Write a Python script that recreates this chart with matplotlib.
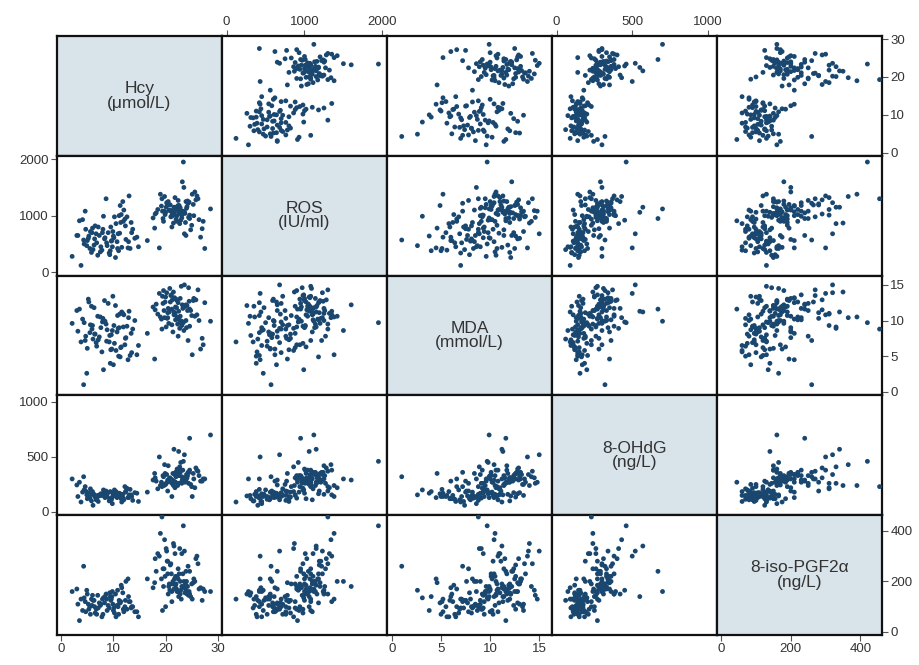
import matplotlib
matplotlib.use("Agg")
import matplotlib.pyplot as plt

plt.rcParams["font.family"] = ["Liberation Sans", "DejaVu Sans"]

# Variable labels shown on the diagonal
labels = ["Hcy\n(μmol/L)", "ROS\n(IU/ml)", "MDA\n(mmol/L)", "8-OHdG\n(ng/L)", "8-iso-PGF2α\n(ng/L)"]

# Homocysteine (µmol/L)
hcy = [
    3.2, 4.1, 5.0, 5.6, 6.3, 7.1, 7.8, 8.4, 9.0, 9.6, 10.2, 10.8, 11.3, 11.9, 12.4, 13.0, 13.7, 14.5, 2.1, 3.8,
    4.6, 5.3, 6.0, 6.8, 7.5, 8.1, 8.8, 9.3, 9.9, 10.5, 11.1, 11.6, 12.2, 12.8, 13.4, 14.1, 4.3, 5.8, 7.3, 8.6,
    9.7, 10.9, 12.0, 13.2, 3.5, 4.9, 6.5, 7.9, 9.2, 10.4, 11.5, 12.6, 14.8, 5.2, 6.1, 8.0, 9.4, 10.7, 11.8, 13.5,
    4.4, 6.7, 8.3, 9.8, 11.0, 12.3, 3.0, 5.5, 7.0, 10.0,
    5.9, 8.7, 10.1, 11.4, 12.9, 4.7, 7.6, 9.5, 6.4, 11.2,
    18.2, 19.0, 19.6, 20.1, 20.5, 21.0, 21.4, 21.8, 22.2, 22.6, 23.0, 23.4, 23.8, 24.3, 24.8, 25.4, 26.0, 26.7, 27.5, 28.6,
    17.6, 18.8, 19.3, 19.9, 20.3, 20.8, 21.2, 21.6, 22.0, 22.4, 22.8, 23.2, 23.6, 24.0, 24.6, 25.1, 25.8, 26.4, 16.5, 20.0,
    18.5, 19.5, 20.6, 21.5, 22.5, 23.5, 24.5, 19.8, 21.1, 22.1, 23.1, 24.1, 25.0, 26.2, 27.0, 20.4, 21.7, 22.9, 23.9, 17.9,
    18.0, 19.2, 20.2, 21.3, 22.3, 23.3, 24.4, 25.6, 20.9, 22.7, 24.2, 19.4, 21.9, 23.7, 27.2,
    20.7, 21.6, 22.4, 23.1, 21.2, 22.8, 20.4, 23.6, 24.6, 21.9, 22.2, 25.3, 19.7, 23.9,
]

# Reactive oxygen species (IU/ml)
ros = [
    650, 930, 560, 720, 480, 800, 390, 610, 700, 550, 980, 420, 1180, 900, 580, 1350, 760, 620, 280, 120,
    1080, 640, 780, 520, 360, 990, 470, 310, 720, 860, 1000, 440, 940, 430, 880, 600, 570, 350, 650, 1300,
    560, 680, 1100, 420, 910, 470, 820, 700, 340, 260, 1020, 980, 450, 600, 400, 760, 380, 540, 1250, 700,
    500, 680, 590, 450, 380, 820, 650, 420, 300, 640,
    700, 520, 610, 880, 540, 760, 450, 800, 590, 690,
    1050, 1380, 900, 1150, 1250, 980, 1100, 1320, 1000, 1180, 1080, 1950, 880, 1220, 750, 1000, 1350, 620, 420, 1120,
    960, 430, 1300, 1020, 1210, 1090, 800, 1150, 940, 1270, 1040, 1600, 680, 1130, 950, 1380, 1280, 930, 560, 1060,
    1110, 950, 1200, 870, 1060, 1500, 1240, 1340, 990, 1120, 1010, 1160, 830, 1300, 770, 1190, 1070, 920, 650, 780,
    1030, 1170, 1230, 1000, 1140, 1080, 970, 1420, 1190, 860, 1260, 1080, 1110, 1040, 900,
    1100, 1020, 1180, 960, 1060, 1140, 1230, 1070, 1010, 1150, 900, 1200, 1080, 1250,
]

# Malondialdehyde (mmol/L)
mda = [
    8.5, 10.2, 6.1, 9.4, 11.8, 7.3, 5.6, 9.9, 12.4, 8.0, 6.8, 10.7, 4.9, 9.1, 7.6, 11.3, 8.8, 5.2, 9.6, 7.0,
    7.2, 12.6, 9.3, 6.4, 10.5, 3.1, 8.7, 7.9, 13.4, 5.8, 9.0, 11.2, 6.6, 4.5, 8.2, 10.0, 1.0, 12.0, 7.7, 9.5,
    6.0, 8.9, 10.8, 5.1, 11.6, 2.6, 8.1, 9.8, 7.0, 12.1, 6.3, 9.2, 6.5, 13.0, 7.4, 10.3, 4.0, 8.4, 11.0, 5.5,
    9.7, 6.9, 12.8, 8.6, 5.0, 7.5, 11.4, 8.3, 10.6, 3.8,
    8.8, 7.1, 9.3, 6.2, 10.4, 7.8, 9.0, 5.9, 8.1, 10.9,
    12.3, 10.5, 14.2, 9.1, 11.7, 13.5, 8.4, 11.0, 12.8, 10.1, 14.8, 9.7, 12.0, 7.2, 11.4, 13.1, 10.8, 6.0, 12.5, 9.9,
    11.9, 13.8, 8.8, 12.6, 10.3, 14.5, 9.4, 11.2, 13.0, 7.8, 10.6, 12.2, 15.0, 9.0, 11.6, 5.2, 12.9, 10.0, 8.2, 13.3,
    10.9, 12.4, 9.6, 14.0, 11.3, 8.6, 12.7, 10.4, 13.6, 11.8, 9.3, 12.1, 10.7, 14.3, 7.5, 11.1, 13.2, 9.8, 12.2, 4.6,
    11.5, 10.2, 13.9, 12.9, 9.5, 11.7, 14.6, 10.6, 12.6, 8.9, 11.4, 13.4, 10.1, 12.0, 6.6,
    11.2, 10.8, 12.5, 9.9, 11.6, 13.1, 10.4, 12.0, 9.2, 11.9, 10.5, 12.8, 11.4, 10.0,
]

# 8-hydroxy-2'-deoxyguanosine (ng/L)
ohdg = [
    140, 180, 120, 210, 160, 95, 150, 130, 175, 110, 200, 145, 165, 125, 190, 155, 105, 170, 300, 90,
    230, 135, 185, 115, 160, 200, 140, 120, 150, 185, 170, 90, 230, 130, 155, 175, 320, 100, 145, 190,
    125, 160, 110, 205, 270, 155, 135, 165, 100, 145, 120, 215, 95, 175, 60, 150, 185, 130, 160, 140,
    200, 110, 165, 75, 140, 180, 245, 125, 150, 170,
    160, 140, 175, 150, 130, 190, 165, 120, 145, 155,
    280, 240, 320, 260, 420, 300, 350, 220, 390, 330, 270, 460, 310, 360, 250, 300, 380, 280, 300, 700,
    290, 500, 230, 350, 270, 310, 140, 570, 320, 260, 380, 290, 520, 340, 670, 140, 400, 330, 180, 250,
    210, 330, 280, 240, 550, 300, 360, 430, 270, 350, 260, 310, 230, 370, 280, 190, 340, 450, 290, 350,
    310, 270, 340, 290, 240, 380, 260, 220, 300, 410, 330, 250, 360, 270, 300,
    300, 280, 340, 320, 260, 360, 290, 310, 380, 270, 330, 350, 240, 300,
]

# 8-iso-prostaglandin F2alpha (ng/L)
iso = [
    110, 85, 150, 70, 125, 95, 60, 140, 105, 130, 75, 165, 115, 90, 200, 120, 100, 80, 160, 130,
    120, 90, 145, 70, 105, 135, 85, 155, 110, 60, 125, 175, 100, 210, 95, 80, 260, 130, 115, 150,
    140, 100, 80, 120, 45, 165, 75, 130, 95, 150, 185, 90, 60, 110, 125, 70, 140, 105, 155, 100,
    135, 90, 115, 160, 70, 125, 170, 100, 145, 85,
    105, 130, 95, 120, 140, 80, 110, 125, 100, 115,
    240, 390, 180, 330, 150, 270, 200, 310, 160, 230, 130, 420, 190, 260, 140, 210, 300, 175, 160, 160,
    175, 300, 455, 220, 280, 165, 120, 340, 190, 250, 150, 180, 320, 200, 240, 130, 290, 170, 210, 100,
    310, 250, 180, 350, 140, 200, 160, 365, 230, 170, 310, 150, 190, 270, 125, 280, 210, 165, 240, 195,
    290, 210, 320, 190, 160, 230, 145, 200, 265, 330, 180, 85, 220, 155, 170,
    190, 170, 210, 180, 160, 200, 230, 175, 150, 185, 220, 195, 250, 165,
]

series = [hcy, ros, mda, ohdg, iso]
limits = [(-0.8, 30.8), (-60, 2060), (-0.5, 16.3), (-30, 1060), (-12, 462)]
ticks = [[0, 10, 20, 30], [0, 1000, 2000], [0, 5, 10, 15], [0, 500, 1000], [0, 200, 400]]

navy = "#1a476f"
diag_fill = "#d8e3ea"
txt = "#333333"

fig = plt.figure(figsize=(9.2, 6.65), dpi=100)
n = len(series)
gs = fig.add_gridspec(n, n, left=57 / 920, right=882 / 920, top=1 - 36 / 665,
                      bottom=1 - 635 / 665, wspace=0, hspace=0)

for i in range(n):
    for j in range(n):
        ax = fig.add_subplot(gs[i, j])
        ax.set_xticks([])
        ax.set_yticks([])
        for sp in ax.spines.values():
            sp.set_linewidth(1.6)
            sp.set_color("#111111")
        if i == j:
            ax.set_facecolor(diag_fill)
            ax.text(0.5, 0.5, labels[i], transform=ax.transAxes, ha="center",
                    va="center", fontsize=12.5, color=txt, linespacing=0.95)
        else:
            ax.scatter(series[j], series[i], s=12, marker="o", color=navy,
                       edgecolors="none", zorder=3)
        tick_kw = dict(direction="out", length=4, width=0.8, colors="#555555",
                       labelcolor=txt, labelsize=9.5, pad=2)
        # column axes: top for odd columns, bottom for even ones
        if i == 0 and j % 2 == 1:
            ax.set_xticks(ticks[j])
            ax.xaxis.tick_top()
            ax.tick_params(axis="x", **tick_kw)
        if i == n - 1 and j % 2 == 0:
            ax.set_xticks(ticks[j])
            ax.tick_params(axis="x", **tick_kw)
        # row axes: right for even rows, left for odd ones
        if j == n - 1 and i % 2 == 0:
            ax.set_yticks(ticks[i])
            ax.yaxis.tick_right()
            ax.tick_params(axis="y", **tick_kw)
        if j == 0 and i % 2 == 1:
            ax.set_yticks(ticks[i])
            ax.tick_params(axis="y", **tick_kw)
        ax.set_xlim(limits[j])
        ax.set_ylim(limits[i])

fig.savefig("out.png", dpi=100, facecolor="white")
